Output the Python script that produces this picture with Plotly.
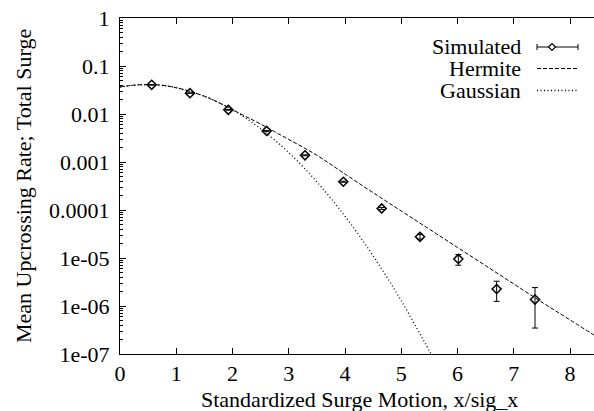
import math
import plotly.graph_objects as go

# ---- data ----
sim_x = [0.563, 1.244, 1.926, 2.607, 3.289, 3.970, 4.652, 5.333, 6.015, 6.696, 7.378]
sim_y = [0.0405, 0.0272, 0.0122, 0.00444, 0.00138, 0.000388, 0.000108, 2.76e-5, 9.57e-6, 2.26e-6, 1.36e-6]
sim_hi = [0.0410, 0.0275, 0.0124, 0.00452, 0.00141, 0.000398, 0.000113, 3.10e-5, 1.18e-5, 3.28e-6, 2.42e-6]
sim_lo = [0.0400, 0.0269, 0.0120, 0.00436, 0.00135, 0.000378, 0.000103, 2.47e-5, 7.07e-6, 1.25e-6, 3.47e-7]

herm_x = [0.0, 0.25, 0.5, 0.75, 1.0, 1.25, 1.5, 1.75, 2.0, 2.25, 2.5, 2.75, 3.0, 3.25, 3.5,
          4.0, 4.5, 5.0, 5.5, 6.0, 6.5, 7.0, 7.5, 8.0, 8.5]
herm_y = [0.0365, 0.0398, 0.0408, 0.0398, 0.0354, 0.0295, 0.0234, 0.0174, 0.0123, 0.00871,
          0.00617, 0.00427, 0.00295, 0.00204, 0.00138, 0.000562, 0.000229, 9.55e-5, 3.98e-5,
          1.66e-5, 6.92e-6, 2.88e-6, 1.20e-6, 5.13e-7, 2.19e-7]

gauss_x = [0.0, 0.25, 0.5, 0.75, 1.0, 1.5, 2.0, 2.5, 3.0, 3.5, 4.0, 4.5, 5.0, 5.5, 5.6]
gauss_y = [0.0366, 0.0400, 0.0408, 0.0392, 0.0351, 0.0234, 0.0122, 0.00496, 0.00157,
           3.86e-4, 7.41e-5, 1.11e-5, 1.29e-6, 1.16e-7, 7.0e-8]

x_tick_vals = [0, 1, 2, 3, 4, 5, 6, 7, 8]
y_tick_vals = [1, 0.1, 0.01, 0.001, 0.0001, 1e-5, 1e-6, 1e-7]
y_tick_text = ["1", "0.1", "0.01", "0.001", "0.0001", "1e-05", "1e-06", "1e-07"]

legend_names = ["Simulated", "Hermite", "Gaussian"]
x_title = "Standardized Surge Motion, x/sig_x"
y_title = "Mean Upcrossing Rate; Total Surge"

# ---- layout geometry ----
W, H = 594, 411
L, R, T, B = 120, 0, 18, 57
X_PER_UNIT = 56.25
FONT = "Liberation Serif, Times New Roman, Times, serif"
FS = 22


def px(xp):
    return (xp - L) / (W - L - R)


def py(yp):
    return (H - B - yp) / (H - T - B)


x_max = (W - L - R) / X_PER_UNIT

fig = go.Figure()

fig.add_trace(go.Scatter(
    x=herm_x, y=herm_y, mode="lines", line_shape="spline",
    line=dict(color="black", width=1, dash="4px,2px"), showlegend=False, name=legend_names[1]))
fig.add_trace(go.Scatter(
    x=gauss_x, y=gauss_y, mode="lines", line_shape="spline",
    line=dict(color="black", width=1.3, dash="1px,2.5px"), showlegend=False, name=legend_names[2]))
fig.add_trace(go.Scatter(
    x=sim_x, y=sim_y, mode="markers", name=legend_names[0], showlegend=False,
    marker=dict(symbol="diamond-open", size=7, color="black", line=dict(width=1.5, color="black")),
    error_y=dict(type="data", symmetric=False,
                 array=[h - v for h, v in zip(sim_hi, sim_y)],
                 arrayminus=[v - l for v, l in zip(sim_y, sim_lo)],
                 color="black", thickness=1, width=3)))

shapes = []
# right-hand mirrored ticks (the right border itself lies outside the picture)
for v in y_tick_vals:
    shapes.append(dict(type="line", xref="paper", yref="y", x0=px(591), x1=px(594),
                       y0=math.log10(v), y1=math.log10(v), line=dict(color="black", width=1)))

# legend samples
ys = [47, 68.5, 90.5]
x0s, x1s = 537, 578
shapes.append(dict(type="line", xref="paper", yref="paper", x0=px(x0s), x1=px(x1s),
                   y0=py(ys[0]), y1=py(ys[0]), line=dict(color="black", width=1)))
for xc in (x0s, x1s):
    shapes.append(dict(type="line", xref="paper", yref="paper", x0=px(xc), x1=px(xc),
                       y0=py(ys[0] - 3), y1=py(ys[0] + 3), line=dict(color="black", width=1)))
dx, dc = 3.5, 552
shapes.append(dict(type="path", xref="paper", yref="paper",
                   path=f"M {px(dc - dx)} {py(ys[0])} L {px(dc)} {py(ys[0] - dx)} L {px(dc + dx)} {py(ys[0])} "
                        f"L {px(dc)} {py(ys[0] + dx)} Z",
                   fillcolor="white", line=dict(color="black", width=1.2)))
shapes.append(dict(type="line", xref="paper", yref="paper", x0=px(x0s), x1=px(x1s),
                   y0=py(ys[1]), y1=py(ys[1]), line=dict(color="black", width=1, dash="4px,2px")))
shapes.append(dict(type="line", xref="paper", yref="paper", x0=px(x0s), x1=px(x1s),
                   y0=py(ys[2]), y1=py(ys[2]), line=dict(color="black", width=1.3, dash="1px,2.5px")))

annotations = []
for name, yc in zip(legend_names, [46, 68, 90]):
    annotations.append(dict(text=name, xref="paper", yref="paper", x=px(522), y=py(yc),
                            xanchor="right", yanchor="middle", showarrow=False,
                            height=20, valign="middle", borderpad=0,
                            font=dict(family=FONT, size=FS, color="black")))
annotations.append(dict(text=x_title, xref="paper", yref="paper", x=px(359), y=py(399),
                        xanchor="center", yanchor="middle", showarrow=False,
                        font=dict(family=FONT, size=FS, color="black")))
annotations.append(dict(text=y_title, xref="paper", yref="paper", x=px(23), y=py(186),
                        xanchor="center", yanchor="middle", showarrow=False, textangle=-90,
                        font=dict(family=FONT, size=FS, color="black")))

fig.update_layout(
    width=W, height=H, margin=dict(l=L, r=R, t=T, b=B, pad=0),
    paper_bgcolor="white", plot_bgcolor="white",
    font=dict(family=FONT, size=FS, color="black"),
    shapes=shapes, annotations=annotations, showlegend=False,
    xaxis=dict(range=[0, x_max], tickvals=x_tick_vals, ticks="inside", ticklen=6,
               tickcolor="black", showline=True, linecolor="black", linewidth=1,
               mirror="ticks", showgrid=False, zeroline=False, ticklabelstandoff=0,
               tickfont=dict(family=FONT, size=FS, color="black")),
    yaxis=dict(type="log", range=[-7, 0], tickvals=y_tick_vals, ticktext=y_tick_text,
               ticks="inside", ticklen=6, tickcolor="black", showline=True,
               linecolor="black", linewidth=1, mirror=False, showgrid=False,
               zeroline=False, ticklabelstandoff=5,
               minor=dict(ticks="inside", ticklen=3, tickcolor="black", dtick="D1", showgrid=False),
               tickfont=dict(family=FONT, size=FS, color="black")),
)

fig.write_html("out.html")
